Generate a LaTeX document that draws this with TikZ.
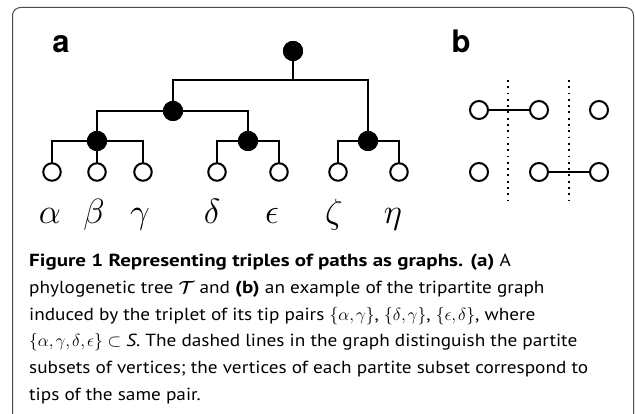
\RequirePackage{fix-cm}
\documentclass[tikz,border=0pt]{standalone}
\usepackage{fontspec}
\usepackage{bm}
\newfontfamily\capfont[FakeStretch=1.1,BoldFeatures={FakeStretch=1.2}]{PT Sans}
\newfontfamily\lblfont{TeX Gyre Heros}
\newcommand{\mcm}{\mathpunct{,}\mkern-1mu}
\begin{document}
\begin{tikzpicture}[x=1pt,y=-1pt,
  treeline/.style={line width=2pt,line cap=rect},
  inner/.style={circle,fill=black,draw=black,line width=0.5pt,minimum size=19.5pt,inner sep=0pt},
  leaf/.style={circle,fill=white,draw=black,line width=2pt,minimum size=17.5pt,inner sep=0pt},
  gvert/.style={circle,fill=white,draw=black,line width=2pt,minimum size=18pt,inner sep=0pt},
  greek/.style={anchor=base,inner sep=0pt,font=\fontsize{35}{40}\selectfont},
  panel/.style={anchor=base,inner sep=0pt,font=\lblfont\bfseries\fontsize{31}{34}\selectfont},
  capline/.style={anchor=base west,inner sep=0pt,font=\capfont\fontsize{17.5}{20}\selectfont},
  sep/.style={line width=1.8pt,dash pattern=on 1.8pt off 4.5pt},
  frame/.style={draw=black!70,line width=1pt,rounded corners=8pt}
]
\useasboundingbox (0,0) rectangle (635,414);
\fill[white] (0,0) rectangle (635,414);
\begin{scope}
\clip (0,0) rectangle (635,414);
\draw[frame] (12.5,430) -- (12.5,7.5) -- (633.5,7.5) -- (633.5,430);
\end{scope}

% panel labels
\node[panel] (la) at (61,53) {a};
\node[panel] (lb) at (461,53) {b};

% tree
\coordinate (rj) at (293,80);
\coordinate (aj) at (173,80);
\coordinate (dj) at (368,80);
\coordinate (bj) at (97,111);
\coordinate (cj) at (248,111);
\foreach \n/\x in {l1/52,l3/143,l4/217,l5/279,l6/338,l7/399}{\coordinate (\n j) at (\x,141);}

\node[inner] (R) at (293,51) {};
\node[inner] (A) at (173,111) {};
\node[inner] (B) at (97,141) {};
\node[inner] (C) at (248,141) {};
\node[inner] (D) at (368,141) {};

\node[leaf] (l1) at (52,172) {};
\node[leaf] (l2) at (97,172) {};
\node[leaf] (l3) at (143,172) {};
\node[leaf] (l4) at (217,172) {};
\node[leaf] (l5) at (279,172) {};
\node[leaf] (l6) at (338,172) {};
\node[leaf] (l7) at (399,172) {};

\draw[treeline] (R) -- (rj);
\draw[treeline] (aj) -- (dj);
\draw[treeline] (aj) -- (A);
\draw[treeline] (dj) -- (D);
\draw[treeline] (bj) -- (cj);
\draw[treeline] (bj) -- (B);
\draw[treeline] (cj) -- (C);
\draw[treeline] (l1j) -- (l3j);
\draw[treeline] (l1j) -- (l1);
\draw[treeline] (B) -- (l2);
\draw[treeline] (l3j) -- (l3);
\draw[treeline] (l4j) -- (l5j);
\draw[treeline] (l4j) -- (l4);
\draw[treeline] (l5j) -- (l5);
\draw[treeline] (l6j) -- (l7j);
\draw[treeline] (l6j) -- (l6);
\draw[treeline] (l7j) -- (l7);
% redraw inner nodes on top
\node[inner] at (R) {};
\node[inner] at (A) {};
\node[inner] at (B) {};
\node[inner] at (C) {};
\node[inner] at (D) {};

\node[greek] (ga) at (50,224) {$\alpha$};
\node[greek] (gb) at (94,224) {$\beta$};
\node[greek] (gc) at (140,224) {$\gamma$};
\node[greek] (gd) at (212,224) {$\delta$};
\node[greek] (ge) at (272,224) {$\epsilon$};
\node[greek] (gz) at (334,224) {$\zeta$};
\node[greek] (gh) at (393,224) {$\eta$};

% graph b
\coordinate (s1t) at (508,80);
\coordinate (s1b) at (508,202);
\coordinate (s2t) at (569,80);
\coordinate (s2b) at (569,202);
\draw[sep] (s1t) -- (s1b);
\draw[sep] (s2t) -- (s2b);
\node[gvert] (u1) at (479,110) {};
\node[gvert] (u2) at (539,110) {};
\node[gvert] (u3) at (599,110) {};
\node[gvert] (v1) at (479,172) {};
\node[gvert] (v2) at (539,172) {};
\node[gvert] (v3) at (599,172) {};
\draw[treeline] (u1) -- (u2);
\draw[treeline] (v2) -- (v3);

% caption
\node[capline] (c1) at (29,266.5) {\textbf{Figure 1 Representing triples of paths as graphs. (a)} A};
\node[capline] (c2) at (29,293.2) {phylogenetic tree $\bm{\mathcal{T}}$ and \textbf{(b)} an example of the tripartite graph};
\node[capline] (c3) at (29,320) {induced by the triplet of its tip pairs $\{\alpha\mcm\gamma\}$, $\{\delta\mcm\gamma\}$, $\{\epsilon\mcm\delta\}$, where};
\node[capline] (c4) at (29,346.7) {$\{\alpha\mcm\gamma\mcm\delta\mcm\epsilon\}\subset$ \textit{S}. The dashed lines in the graph distinguish the partite};
\node[capline] (c5) at (29,373.4) {subsets of vertices; the vertices of each partite subset correspond to};
\node[capline] (c6) at (29,400.1) {tips of the same pair.};
\end{tikzpicture}
\end{document}
